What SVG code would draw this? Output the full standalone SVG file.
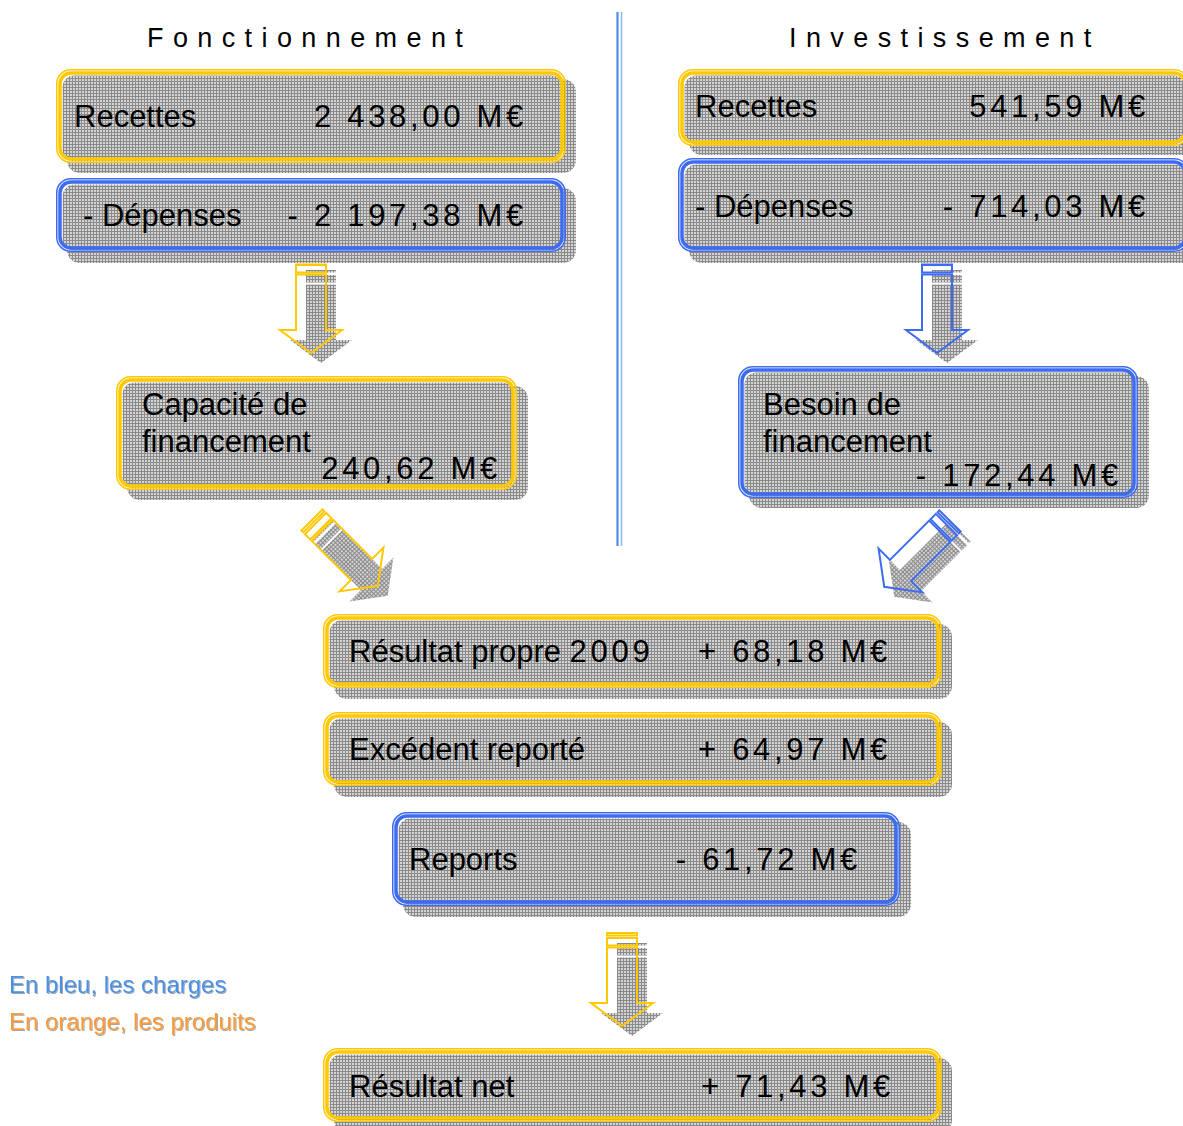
<svg xmlns="http://www.w3.org/2000/svg" xmlns:xlink="http://www.w3.org/1999/xlink" width="1183" height="1126" viewBox="0 0 1183 1126">
<style>
.t{font-family:"Liberation Sans",Arial,sans-serif;font-size:31px;fill:#000}
.n{letter-spacing:3.7px;text-anchor:end}
.ttl{font-family:"Liberation Sans",Arial,sans-serif;font-size:27px;letter-spacing:9.4px;fill:#000}
.sh{fill:url(#hatch)}
.gr{fill:url(#hatch);stroke:#fff;stroke-width:1.2}
.o1y{fill:none;stroke:#FFC800;stroke-width:1.5}
.o2y{fill:none;stroke:#FFC800;stroke-width:3.5}
.o1b{fill:none;stroke:#3D6CF2;stroke-width:1.5}
.o2b{fill:none;stroke:#3D6CF2;stroke-width:3.5}
.ay{fill:none;stroke:#FFC800;stroke-width:2}
.ab{fill:none;stroke:#3D6CF2;stroke-width:2}
.leg{font-family:"Liberation Sans",Arial,sans-serif;font-size:24px;filter:url(#ds)}
</style>
<defs>
<pattern id="hatch" width="3" height="3" patternUnits="userSpaceOnUse">
<rect width="3" height="3" fill="#d4d4d4"/>
<rect width="3" height="1" fill="#8a8a8a"/>
<rect width="1" height="3" fill="#8a8a8a"/>
</pattern>
<filter id="ds" x="-5%" y="-20%" width="110%" height="140%">
<feDropShadow dx="1" dy="1" stdDeviation="0.4" flood-color="#000" flood-opacity="0.35"/>
</filter>
<g id="arrowShape">
<rect x="-15" y="0" width="30" height="2.5"/>
<rect x="-15" y="5" width="30" height="7.5"/>
<path d="M-15 14.5 L15 14.5 L15 70 L31 70 L0 93 L-31 70 L-15 70 Z"/>
</g>
</defs>
<rect width="1183" height="1126" fill="#fff"/>

<g id="titles">
<text class="ttl" x="147" y="47">Fonctionnement</text>
<text class="ttl" x="789" y="47">Investissement</text>
</g>

<g id="divider">
<line x1="617.5" y1="12" x2="617.5" y2="546" stroke="#4a8fe8" stroke-width="2.2"/>
<line x1="621.5" y1="12" x2="621.5" y2="546" stroke="#8ab8f2" stroke-width="1.5"/>
</g>

<g id="connectors">
<g id="arrow-fonct">
<g transform="translate(321,270)" class="sh"><use xlink:href="#arrowShape"/></g>
<g transform="translate(311,260)" class="ay"><use xlink:href="#arrowShape"/></g>
</g>
<g id="arrow-invest">
<g transform="translate(947,270)" class="sh"><use xlink:href="#arrowShape"/></g>
<g transform="translate(937,260)" class="ab"><use xlink:href="#arrowShape"/></g>
</g>
<g id="arrow-capacite">
<g transform="translate(322,530) rotate(-45)" class="sh"><use xlink:href="#arrowShape"/></g>
<g transform="translate(312,520) rotate(-45)" class="ay"><use xlink:href="#arrowShape"/></g>
</g>
<g id="arrow-besoin">
<g transform="translate(960,531) rotate(45)" class="sh"><use xlink:href="#arrowShape"/></g>
<g transform="translate(950,521) rotate(45)" class="ab"><use xlink:href="#arrowShape"/></g>
</g>
<g id="arrow-net">
<g transform="translate(632,943)" class="sh"><use xlink:href="#arrowShape"/></g>
<g transform="translate(622,933)" class="ay"><use xlink:href="#arrowShape"/></g>
</g>
</g>

<g id="fonct-recettes">
<rect class="sh" x="67" y="79" width="509" height="94" rx="13"/>
<rect class="gr" x="62" y="75" width="501" height="87" rx="12"/>
<rect class="o1y" x="56.75" y="69.75" width="508.5" height="92.5" rx="14"/>
<rect class="o2y" x="60" y="73" width="502" height="86" rx="11"/>
<text class="t" x="74" y="127">Recettes</text>
<text class="t n" x="527" y="127">2 438,00 M€</text>
</g>

<g id="fonct-depenses">
<rect class="sh" x="67" y="188" width="509" height="75" rx="13"/>
<rect class="gr" x="62" y="184" width="501" height="67" rx="12"/>
<rect class="o1b" x="56.75" y="178.75" width="508.5" height="72.5" rx="14"/>
<rect class="o2b" x="60" y="182" width="502" height="66" rx="11"/>
<text class="t" x="83" y="226">- Dépenses</text>
<text class="t n" x="527" y="226">- 2 197,38 M€</text>
</g>

<g id="invest-recettes">
<rect class="sh" x="689" y="79" width="510" height="76" rx="13"/>
<rect class="gr" x="684" y="75" width="502" height="70" rx="12"/>
<rect class="o1y" x="678.75" y="69.75" width="509.5" height="75.5" rx="14"/>
<rect class="o2y" x="682" y="73" width="503" height="69" rx="11"/>
<text class="t" x="695" y="117">Recettes</text>
<text class="t n" x="1149" y="117">541,59 M€</text>
</g>

<g id="invest-depenses">
<rect class="sh" x="689" y="168" width="510" height="95" rx="13"/>
<rect class="gr" x="684" y="164" width="502" height="87" rx="12"/>
<rect class="o1b" x="678.75" y="158.75" width="509.5" height="92.5" rx="14"/>
<rect class="o2b" x="682" y="162" width="503" height="86" rx="11"/>
<text class="t" x="695" y="217">- Dépenses</text>
<text class="t n" x="1149" y="217">- 714,03 M€</text>
</g>

<g id="capacite">
<rect class="sh" x="127" y="386" width="401" height="114" rx="13"/>
<rect class="gr" x="122" y="382" width="393" height="107" rx="12"/>
<rect class="o1y" x="116.75" y="376.75" width="399.5" height="112.5" rx="14"/>
<rect class="o2y" x="120" y="380" width="393" height="106" rx="11"/>
<text class="t" x="142" y="415">Capacité de</text>
<text class="t" x="142" y="452">financement</text>
<text class="t n" x="501" y="479">240,62 M€</text>
</g>

<g id="besoin">
<rect class="sh" x="749" y="376" width="400" height="132" rx="13"/>
<rect class="gr" x="744" y="372" width="392" height="125" rx="12"/>
<rect class="o1b" x="738.75" y="366.75" width="398.5" height="130.5" rx="14"/>
<rect class="o2b" x="742" y="370" width="392" height="124" rx="11"/>
<text class="t" x="763" y="415">Besoin de</text>
<text class="t" x="763" y="452">financement</text>
<text class="t n" x="1122" y="486">- 172,44 M€</text>
</g>

<g id="resultat-propre">
<rect class="sh" x="334" y="624" width="618" height="75" rx="13"/>
<rect class="gr" x="329" y="620" width="610" height="67" rx="12"/>
<rect class="o1y" x="323.75" y="614.75" width="617.5" height="72.5" rx="14"/>
<rect class="o2y" x="327" y="618" width="611" height="66" rx="11"/>
<text class="t" x="349" y="662">Résultat propre <tspan style="letter-spacing:3.7px">2009</tspan></text>
<text class="t n" x="891" y="662">+ 68,18 M€</text>
</g>

<g id="excedent">
<rect class="sh" x="334" y="722" width="618" height="75" rx="13"/>
<rect class="gr" x="329" y="718" width="610" height="67" rx="12"/>
<rect class="o1y" x="323.75" y="712.75" width="617.5" height="72.5" rx="14"/>
<rect class="o2y" x="327" y="716" width="611" height="66" rx="11"/>
<text class="t" x="349" y="760">Excédent reporté</text>
<text class="t n" x="891" y="760">+ 64,97 M€</text>
</g>

<g id="reports">
<rect class="sh" x="403" y="822" width="508" height="95" rx="13"/>
<rect class="gr" x="398" y="818" width="500" height="87" rx="12"/>
<rect class="o1b" x="392.75" y="812.75" width="506.5" height="92.5" rx="14"/>
<rect class="o2b" x="396" y="816" width="500" height="86" rx="11"/>
<text class="t" x="409" y="870">Reports</text>
<text class="t n" x="861" y="870">- 61,72 M€</text>
</g>

<g id="resultat-net">
<rect class="sh" x="334" y="1058" width="618" height="75" rx="13"/>
<rect class="gr" x="329" y="1054" width="610" height="67" rx="12"/>
<rect class="o1y" x="323.75" y="1048.75" width="617.5" height="72.5" rx="14"/>
<rect class="o2y" x="327" y="1052" width="611" height="66" rx="11"/>
<text class="t" x="349" y="1097">Résultat net</text>
<text class="t n" x="894" y="1097">+ 71,43 M€</text>
</g>

<g id="legend">
<text class="leg" x="9" y="993" fill="#4a90e6">En bleu, les charges</text>
<text class="leg" x="9" y="1030" fill="#f89a3c">En orange, les produits</text>
</g>
</svg>
